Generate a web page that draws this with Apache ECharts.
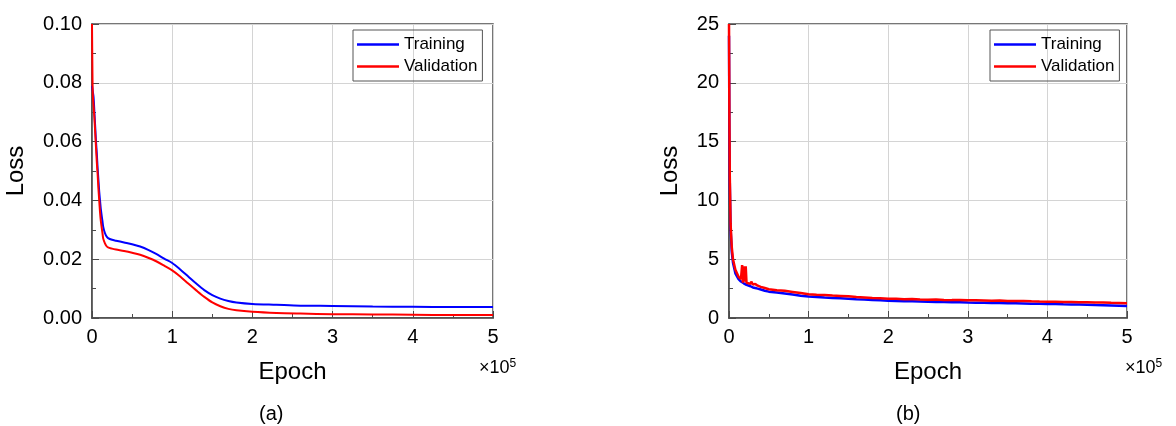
<!DOCTYPE html>
<html>
<head>
<meta charset="utf-8">
<script src="https://cdn.jsdelivr.net/npm/echarts@6/dist/echarts.min.js"></script>
<style>
  html, body { margin: 0; padding: 0; background: #fff; }
  #main { width: 1176px; height: 426px; }
</style>
</head>
<body>
<div id="main"></div>
<script>
// epoch in units of 1e5
var epochA = [0, 0.005, 0.01, 0.02, 0.03, 0.04, 0.05, 0.06, 0.07, 0.08, 0.09, 0.10, 0.11, 0.13, 0.14, 0.16, 0.18, 0.2, 0.25, 0.3, 0.4, 0.5, 0.6, 0.7, 0.8, 0.9, 1.0, 1.1, 1.2, 1.3, 1.4, 1.5, 1.6, 1.7, 1.8, 2.0, 2.3, 2.6, 3.0, 3.5, 4.0, 4.5, 5.0];
var trainA = [0.079, 0.078, 0.077, 0.075, 0.070, 0.065, 0.060, 0.056, 0.051, 0.047, 0.043, 0.040, 0.037, 0.033, 0.031, 0.029, 0.0278, 0.0272, 0.0266, 0.0263, 0.0257, 0.0251, 0.0243, 0.0232, 0.0218, 0.0202, 0.0187, 0.0165, 0.0141, 0.0117, 0.0095, 0.0078, 0.0066, 0.0058, 0.0053, 0.0048, 0.0045, 0.0042, 0.0041, 0.0039, 0.0038, 0.0037, 0.0037];
var valA = [0.100, 0.085, 0.076, 0.072, 0.068, 0.063, 0.058, 0.053, 0.049, 0.044, 0.040, 0.036, 0.033, 0.029, 0.027, 0.0255, 0.0245, 0.0240, 0.0236, 0.0233, 0.0228, 0.0222, 0.0215, 0.0205, 0.0193, 0.0178, 0.0162, 0.0141, 0.0117, 0.0094, 0.0072, 0.0053, 0.0040, 0.0031, 0.0026, 0.0021, 0.0017, 0.0015, 0.0013, 0.0012, 0.0011, 0.0010, 0.0010];

var epochB = [0, 0.005, 0.01, 0.02, 0.035, 0.05, 0.08, 0.12, 0.15, 0.165, 0.175, 0.185, 0.195, 0.21, 0.22, 0.24, 0.27, 0.28, 0.30, 0.33, 0.36, 0.40, 0.45,
  0.5, 0.6, 0.7, 0.8, 0.9, 1.0, 1.1, 1.2, 1.3, 1.4, 1.5, 1.6, 1.7, 1.8, 1.9, 2.0, 2.1, 2.2, 2.3, 2.4, 2.5, 2.6, 2.7, 2.8, 2.9, 3.0,
  3.1, 3.2, 3.3, 3.4, 3.5, 3.6, 3.7, 3.8, 3.9, 4.0, 4.1, 4.2, 4.3, 4.4, 4.5, 4.6, 4.7, 4.8, 4.9, 5.0];
var trainB = [24, 16, 11.5, 7.6, 5.6, 4.7, 3.8, 3.3, 3.1, 3.05, 3.0, 2.95, 2.9, 2.85, 2.82, 2.76, 2.7, 2.66, 2.6, 2.55, 2.5, 2.42, 2.32,
  2.24, 2.16, 2.08, 2.00, 1.90, 1.82, 1.78, 1.74, 1.71, 1.68, 1.64, 1.60, 1.57, 1.53, 1.50, 1.46, 1.45, 1.43, 1.42, 1.40, 1.38, 1.37, 1.36, 1.34, 1.33, 1.31,
  1.30, 1.29, 1.28, 1.27, 1.26, 1.25, 1.24, 1.22, 1.21, 1.19, 1.18, 1.16, 1.15, 1.14, 1.12, 1.10, 1.09, 1.07, 1.05, 1.03];
var valB = [25, 17, 12, 8, 6, 5, 4.1, 3.5, 3.3, 4.5, 3.0, 4.4, 3.1, 4.4, 3.0, 2.85, 2.9, 3.1, 2.85, 2.9, 2.75, 2.65, 2.55,
  2.44, 2.36, 2.31, 2.22, 2.12, 2.02, 1.98, 1.95, 1.91, 1.88, 1.84, 1.78, 1.75, 1.70, 1.68, 1.64, 1.63, 1.60, 1.61, 1.58, 1.56, 1.57, 1.54, 1.52, 1.53, 1.50,
  1.51, 1.49, 1.47, 1.48, 1.45, 1.44, 1.45, 1.42, 1.40, 1.39, 1.38, 1.36, 1.37, 1.34, 1.33, 1.31, 1.32, 1.29, 1.28, 1.25];

function zip(xs, ys) {
  var out = [];
  for (var i = 0; i < xs.length; i++) out.push([xs[i], ys[i]]);
  return out;
}

var chart = echarts.init(document.getElementById("main"));
var font = "Liberation Sans, Arial, sans-serif";
var frame = "#4a4a4a";

function xAx(idx) {
  return {
    type: "value", gridIndex: idx, min: 0, max: 5, interval: 1,
    name: "Epoch", nameLocation: "middle", nameGap: 42,
    nameTextStyle: { fontSize: 24, color: "#000", fontFamily: font },
    axisLine: { lineStyle: { color: frame, width: 1.5 } },
    axisTick: { inside: true, length: 7, lineStyle: { color: frame } },
    minorTick: { show: true, splitNumber: 2, length: 4, lineStyle: { color: frame } },
    axisLabel: { fontSize: 20, color: "#000", fontFamily: font, margin: 9 },
    splitLine: { lineStyle: { color: "#d4d4d4", width: 1 } }
  };
}
function yAx(idx, max, interval, gap, fmt) {
  return {
    type: "value", gridIndex: idx, min: 0, max: max, interval: interval,
    name: "Loss", nameLocation: "middle", nameGap: gap,
    nameTextStyle: { fontSize: 24, color: "#000", fontFamily: font },
    axisLine: { show: true, lineStyle: { color: frame, width: 1.5 } },
    axisTick: { show: true, inside: true, length: 7, lineStyle: { color: frame } },
    minorTick: { show: true, splitNumber: 2, length: 4, lineStyle: { color: frame } },
    axisLabel: { fontSize: 20, color: "#000", fontFamily: font, margin: 10, formatter: fmt },
    splitLine: { lineStyle: { color: "#d4d4d4", width: 1 } }
  };
}
function legendAt(left) {
  return {
    orient: "vertical", left: left, top: 30,
    data: ["Training", "Validation"],
    icon: "rect",
    borderColor: "#555", borderWidth: 1,
    padding: [6, 5, 6, 4],
    itemWidth: 42, itemHeight: 2.5, itemGap: 5,
    textStyle: { fontSize: 17, color: "#000", fontFamily: font }
  };
}

chart.setOption({
  animation: false,
  grid: [
    { left: 92, top: 24, width: 401, height: 294, show: true, borderColor: frame, borderWidth: 1.5 },
    { left: 729, top: 24, width: 398, height: 294, show: true, borderColor: frame, borderWidth: 1.5 }
  ],
  legend: [legendAt(353), legendAt(990)],
  xAxis: [xAx(0), xAx(1)],
  yAxis: [
    yAx(0, 0.1, 0.02, 64, function (v) { return v.toFixed(2); }),
    yAx(1, 25, 5, 47, function (v) { return String(v); })
  ],
  series: [
    { name: "Training", type: "line", xAxisIndex: 0, yAxisIndex: 0, data: zip(epochA, trainA),
      symbol: "none", smooth: 0.3, lineStyle: { color: "#0000ff", width: 2 }, itemStyle: { color: "#0000ff" } },
    { name: "Validation", type: "line", xAxisIndex: 0, yAxisIndex: 0, data: zip(epochA, valA),
      symbol: "none", smooth: 0.3, lineStyle: { color: "#ff0000", width: 2 }, itemStyle: { color: "#ff0000" } },
    { name: "Training", type: "line", xAxisIndex: 1, yAxisIndex: 1, data: zip(epochB, trainB),
      symbol: "none", lineStyle: { color: "#0000ff", width: 2.5 }, itemStyle: { color: "#0000ff" } },
    { name: "Validation", type: "line", xAxisIndex: 1, yAxisIndex: 1, data: zip(epochB, valB),
      symbol: "none", lineStyle: { color: "#ff0000", width: 2.5 }, itemStyle: { color: "#ff0000" } }
  ],
  graphic: [
    { type: "text", left: 479, top: 358, style: { text: "×10{s|5}", font: "18px " + font, fill: "#000",
      rich: { s: { fontSize: 12, verticalAlign: "top", padding: [0, 0, 8, 0] } } } },
    { type: "text", left: 1125, top: 358, style: { text: "×10{s|5}", font: "18px " + font, fill: "#000",
      rich: { s: { fontSize: 12, verticalAlign: "top", padding: [0, 0, 8, 0] } } } },
    { type: "text", left: 259, top: 404, style: { text: "(a)", font: "20px " + font, fill: "#000" } },
    { type: "text", left: 896, top: 404, style: { text: "(b)", font: "20px " + font, fill: "#000" } }
  ]
});
</script>
</body>
</html>
